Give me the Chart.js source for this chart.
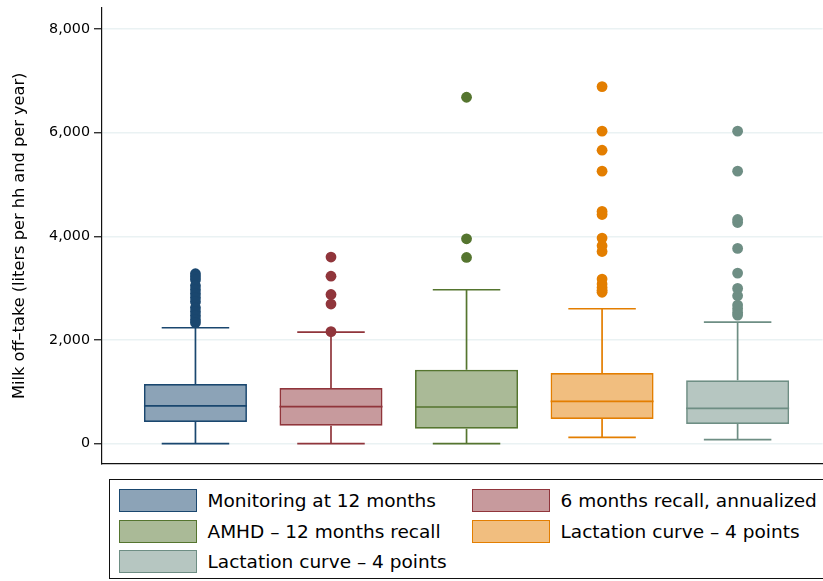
<!DOCTYPE html>
<html>
<head>
<meta charset="utf-8">
<script src="https://cdn.jsdelivr.net/npm/chart.js@4/dist/chart.umd.min.js"></script>
<style>
  html, body { margin: 0; padding: 0; background: #fff; }
  body { width: 823px; height: 581px; position: relative; overflow: hidden; font-family: "DejaVu Sans", sans-serif; }
  #wrap { position: absolute; left: 0; top: 0; width: 828px; height: 469px; }
  #legend { position: absolute; left: 109px; top: 479px; width: 720px; height: 100px; border: 1px solid #111; box-sizing: border-box; }
  .item { position: absolute; height: 23px; display: flex; align-items: center; }
  .sw { width: 78px; height: 23px; box-sizing: border-box; border: 1.6px solid; flex: none; }
  .lab { margin-left: 11px; font-size: 18.5px; color: #000; white-space: nowrap; line-height: 23px; }
</style>
</head>
<body>
<div id="wrap"><canvas id="c"></canvas></div>
<div id="legend"></div>
<script>
// ---- data ----
const categories = [
  "Monitoring at 12 months",
  "6 months recall, annualized",
  "AMHD \u2013 12 months recall",
  "Lactation curve \u2013 4 points",
  "Lactation curve \u2013 4 points"
];
const positions = [1, 2, 3, 4, 5];
const whiskerLow  = [0, 0, 0, 122, 77];
const q1          = [418, 347, 289, 476, 379];
const medians     = [727, 713, 707, 816, 681];
const q3          = [1150, 1073, 1426, 1363, 1221];
const whiskerHigh = [2236, 2153, 2969, 2602, 2345];
const outliers = [
  [3277, 3219, 3161, 3046, 2969, 2892, 2814, 2737, 2622, 2545, 2467, 2390, 2332],
  [2160, 2693, 2878, 3230, 3600],
  [3592, 3952, 6683],
  [2920, 2960, 3010, 3079, 3175, 3707, 3817, 3965, 4420, 4480, 5257, 5661, 6028, 6888],
  [2480, 2530, 2600, 2673, 2853, 2994, 3290, 3766, 4266, 4324, 5257, 6028]
];
const yTicks = [0, 2000, 4000, 6000, 8000];
const colors = ["#1a476f", "#90353b", "#55752f", "#e37e00", "#6e8e84"];
const fills  = ["rgba(26,71,111,0.5)", "rgba(144,53,59,0.5)", "rgba(85,117,47,0.5)", "rgba(227,126,0,0.5)", "rgba(110,142,132,0.5)"];

// ---- layout constants ----
const BOX_HALF = 0.38, CAP_HALF = 0.249;
const FONT = "'DejaVu Sans', sans-serif";

const datasets = [];
datasets.push({
  type: 'bar',
  data: positions.map((x, i) => ({ x: x, y: [q1[i], q3[i]] })),
  backgroundColor: fills,
  borderColor: colors,
  borderWidth: 1.7,
  borderSkipped: false,
  barPercentage: 0.76,
  categoryPercentage: 1,
  order: 3
});
positions.forEach((x, i) => {
  const gap = { x: x, y: null };
  datasets.push({
    type: 'line',
    data: [
      { x: x - CAP_HALF, y: whiskerLow[i] }, { x: x + CAP_HALF, y: whiskerLow[i] }, gap,
      { x: x, y: whiskerLow[i] }, { x: x, y: q1[i] }, gap,
      { x: x, y: q3[i] }, { x: x, y: whiskerHigh[i] }, gap,
      { x: x - CAP_HALF, y: whiskerHigh[i] }, { x: x + CAP_HALF, y: whiskerHigh[i] }, gap,
      { x: x - BOX_HALF, y: medians[i] }, { x: x + BOX_HALF, y: medians[i] }
    ],
    borderColor: colors[i],
    borderWidth: 1.7,
    pointRadius: 0,
    spanGaps: false,
    tension: 0,
    fill: false,
    order: 2
  });
  datasets.push({
    type: 'scatter',
    data: outliers[i].map(v => ({ x: x, y: v })),
    backgroundColor: colors[i],
    borderWidth: 0,
    pointRadius: 5.4,
    order: 1
  });
});

new Chart(document.getElementById('c'), {
  data: { datasets: datasets },
  options: {
    responsive: true,
    maintainAspectRatio: false,
    animation: false,
    layout: { padding: { top: 8, right: 0, bottom: 3, left: 0 } },
    plugins: { legend: { display: false }, tooltip: { enabled: false } },
    scales: {
      x: {
        type: 'linear',
        offset: false,
        min: 0.3105,
        max: 5.627,
        afterBuildTicks: s => { s.ticks = positions.map(v => ({ value: v })); },
        ticks: { display: false },
        grid: { display: false, drawTicks: false },
        border: { display: true, color: '#111', width: 1.2 },
        afterFit: s => { s.height = 0; s.paddingLeft = 0; s.paddingRight = 0; }
      },
      y: {
        type: 'linear',
        min: -385.5,
        max: 8404.8,
        afterBuildTicks: s => { s.ticks = yTicks.map(v => ({ value: v })); },
        ticks: {
          color: '#000',
          padding: 4,
          font: { family: FONT, size: 14.3 },
          callback: v => v.toLocaleString('en-US')
        },
        grid: { color: '#eaf2f3', lineWidth: 1.5, tickLength: 8, tickColor: '#111', tickWidth: 1.2 },
        border: { display: true, color: '#111', width: 1.2 },
        title: {
          display: true,
          text: 'Milk off\u2013take (liters per hh and per year)',
          color: '#000',
          font: { family: FONT, size: 16.2 },
          padding: { top: 10.5, bottom: 0 }
        },
        afterFit: s => { s.width = 102; s.paddingTop = 0; s.paddingBottom = 0; }
      }
    }
  }
});

// ---- legend ----
const legendPos = [
  { left: 8.5, top: 9 }, { left: 361.5, top: 9 },
  { left: 8.5, top: 39.5 }, { left: 361.5, top: 39.5 },
  { left: 8.5, top: 70 }
];
const lg = document.getElementById('legend');
categories.forEach((name, i) => {
  const it = document.createElement('div');
  it.className = 'item';
  it.style.left = legendPos[i].left + 'px';
  it.style.top = legendPos[i].top + 'px';
  const sw = document.createElement('div');
  sw.className = 'sw';
  sw.style.borderColor = colors[i];
  sw.style.background = fills[i];
  const lb = document.createElement('span');
  lb.className = 'lab';
  lb.textContent = name;
  it.appendChild(sw); it.appendChild(lb);
  lg.appendChild(it);
});
</script>
</body>
</html>
